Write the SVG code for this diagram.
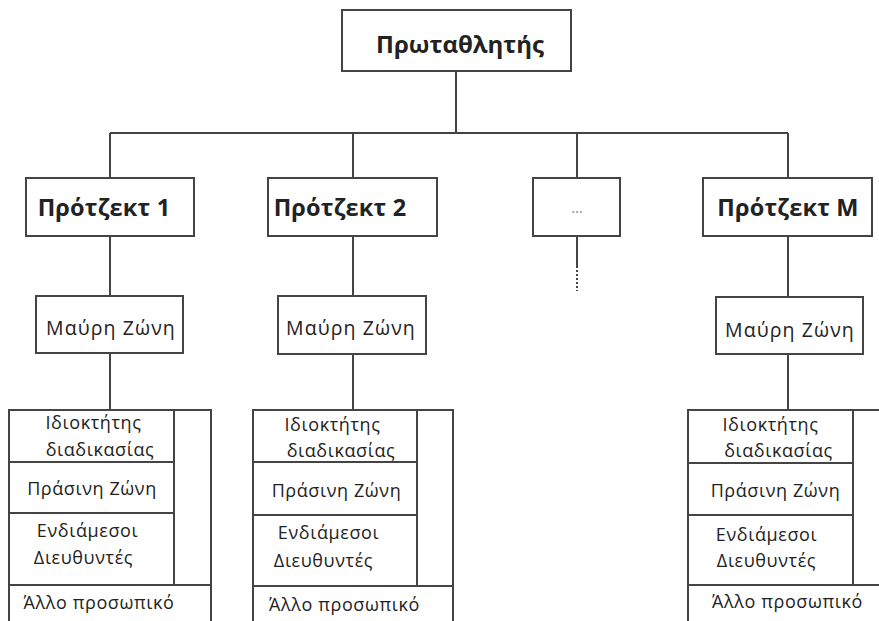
<svg xmlns="http://www.w3.org/2000/svg" width="879" height="621" viewBox="0 0 879 621">
<style>
.box{fill:#fff;stroke:#444;stroke-width:2}
.ln{fill:none;stroke:#444;stroke-width:2}
text{font-family:"Open Sans","DejaVu Sans",sans-serif;fill:#222;text-anchor:middle}
.t{font-weight:bold;font-size:24px}
.h{font-weight:bold;font-size:23.5px;letter-spacing:0.2px}
.m{font-size:19.5px;letter-spacing:1.1px}
.s{font-size:18px;letter-spacing:0.6px}
.dots{font-size:15px;fill:#888}
</style>
<rect width="879" height="621" fill="#fff"/>
<g id="connectors">
<path class="ln" d="M456 71V133M110 133H788M110 133V178M353 133V178M577 133V178M788 133V178"/>
<path class="ln" d="M110 236V296M353 236V296M788 236V297"/>
<path class="ln" d="M577 236V268"/>
<path class="ln" d="M577 270V291" stroke-dasharray="2 2"/>
<path class="ln" d="M110 353V410M353 354V410M788 354V410"/>
</g>
<g id="champion"><rect class="box" x="342" y="10" width="229" height="61"/><text class="t" x="460" y="53">Πρωταθλητής</text></g>
<g id="project1"><rect class="box" x="26" y="178" width="168" height="58"/><text class="h" x="104" y="216">Πρότζεκτ 1</text></g>
<g id="project2"><rect class="box" x="268" y="178" width="169" height="58"/><text class="h" x="340" y="216">Πρότζεκτ 2</text></g>
<g id="projectDots"><rect class="box" x="533" y="178" width="87" height="58"/><text class="dots" x="577" y="213">…</text></g>
<g id="projectM"><rect class="box" x="703" y="178" width="169" height="58"/><text class="h" x="788" y="216">Πρότζεκτ Μ</text></g>
<g id="black1"><rect class="box" x="36" y="296" width="147" height="57"/><text class="m" x="111" y="335">Μαύρη Ζώνη</text></g>
<g id="black2"><rect class="box" x="278" y="296" width="148" height="58"/><text class="m" x="351" y="335">Μαύρη Ζώνη</text></g>
<g id="blackM"><rect class="box" x="716" y="297" width="147" height="57"/><text class="m" x="790" y="337">Μαύρη Ζώνη</text></g>
<g id="stack1">
<path class="ln" d="M9 630V410H211V630M174 410V585M9 462H174M9 513H174M9 585H211"/>
<text class="s" x="93.5" y="429">Ιδιοκτήτης</text><text class="s" x="100" y="456">διαδικασίας</text>
<text class="s" x="92" y="495">Πράσινη Ζώνη</text>
<text class="s" x="87.5" y="537">Ενδιάμεσοι</text><text class="s" x="83.5" y="564">Διευθυντές</text>
<text class="s" x="99" y="609">Άλλο προσωπικό</text>
</g>
<g id="stack2">
<path class="ln" d="M253 630V410H453V630M417 410V586M253 462H417M253 515H417M253 586H453"/>
<text class="s" x="332.5" y="431">Ιδιοκτήτης</text><text class="s" x="341" y="457">διαδικασίας</text>
<text class="s" x="336.5" y="497">Πράσινη Ζώνη</text>
<text class="s" x="328.5" y="539">Ενδιάμεσοι</text><text class="s" x="323.5" y="567">Διευθυντές</text>
<text class="s" x="344.5" y="611">Άλλο προσωπικό</text>
</g>
<g id="stackM">
<path class="ln" d="M688 630V410H890M853 410V585M688 463H853M688 515H853M688 585H890"/>
<text class="s" x="770.5" y="431">Ιδιοκτήτης</text><text class="s" x="778.5" y="457">διαδικασίας</text>
<text class="s" x="775.5" y="497">Πράσινη Ζώνη</text>
<text class="s" x="766.5" y="541">Ενδιάμεσοι</text><text class="s" x="766.5" y="567">Διευθυντές</text>
<text class="s" x="787.5" y="608">Άλλο προσωπικό</text>
</g>
</svg>
